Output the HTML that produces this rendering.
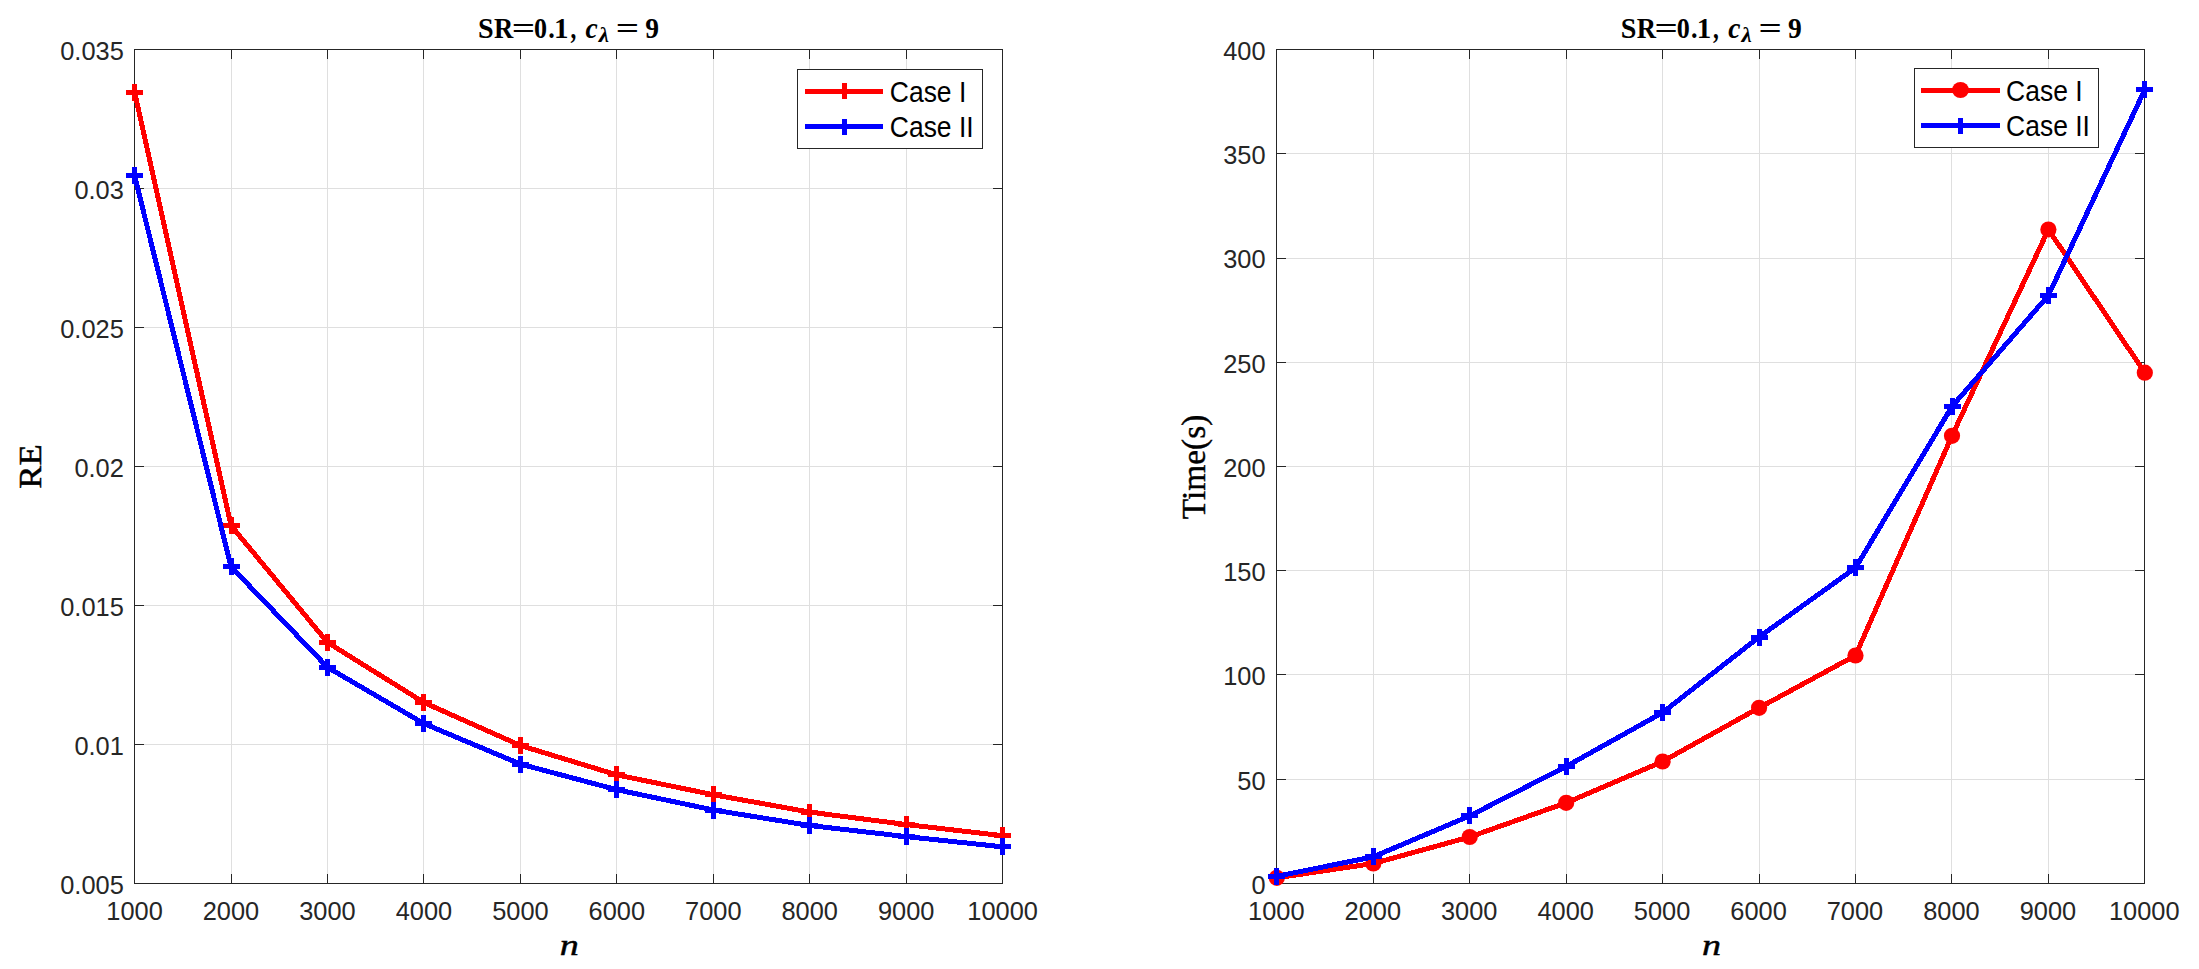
<!DOCTYPE html>
<html lang="en"><head><meta charset="utf-8"><title>SR=0.1 plots</title>
<style>html,body{margin:0;padding:0;background:#fff}body{width:2199px;height:969px;overflow:hidden}svg{display:block}</style>
</head><body>
<svg width="2199" height="969" viewBox="0 0 2199 969">
<rect width="2199" height="969" fill="#fff"/>
<path d="M231.5 49.55V883.55M327.5 49.55V883.55M423.5 49.55V883.55M520.5 49.55V883.55M616.5 49.55V883.55M713.5 49.55V883.55M809.5 49.55V883.55M906.5 49.55V883.55M134.6 188.5H1002.6M134.6 327.5H1002.6M134.6 466.5H1002.6M134.6 605.5H1002.6M134.6 744.5H1002.6" stroke="#dfdfdf" stroke-width="1" fill="none" shape-rendering="crispEdges"/>
<path d="M231.5 883.55v-9.5M231.5 49.55v9.5M327.5 883.55v-9.5M327.5 49.55v9.5M423.5 883.55v-9.5M423.5 49.55v9.5M520.5 883.55v-9.5M520.5 49.55v9.5M616.5 883.55v-9.5M616.5 49.55v9.5M713.5 883.55v-9.5M713.5 49.55v9.5M809.5 883.55v-9.5M809.5 49.55v9.5M906.5 883.55v-9.5M906.5 49.55v9.5M134.6 188.5h9.5M1002.6 188.5h-9.5M134.6 327.5h9.5M1002.6 327.5h-9.5M134.6 466.5h9.5M1002.6 466.5h-9.5M134.6 605.5h9.5M1002.6 605.5h-9.5M134.6 744.5h9.5M1002.6 744.5h-9.5" stroke="#262626" stroke-width="1" fill="none" shape-rendering="crispEdges"/>
<rect x="134.5" y="49.5" width="868" height="834" fill="none" stroke="#262626" stroke-width="1" shape-rendering="crispEdges"/>
<g shape-rendering="crispEdges">
<polyline points="134.6,92.4 231.0,525.5 327.5,642.4 423.9,702.5 520.4,745.5 616.8,774.9 713.3,794.7 809.7,812.1 906.2,824.5 1002.6,835.7" fill="none" stroke="#ff0000" stroke-width="5" stroke-linejoin="round"/>
<rect x="126.1" y="89.9" width="17" height="5" fill="#ff0000"/><rect x="132.1" y="83.9" width="5" height="17" fill="#ff0000"/>
<rect x="222.5" y="523.0" width="17" height="5" fill="#ff0000"/><rect x="228.5" y="517.0" width="5" height="17" fill="#ff0000"/>
<rect x="319.0" y="639.9" width="17" height="5" fill="#ff0000"/><rect x="325.0" y="633.9" width="5" height="17" fill="#ff0000"/>
<rect x="415.4" y="700.0" width="17" height="5" fill="#ff0000"/><rect x="421.4" y="694.0" width="5" height="17" fill="#ff0000"/>
<rect x="511.9" y="743.0" width="17" height="5" fill="#ff0000"/><rect x="517.9" y="737.0" width="5" height="17" fill="#ff0000"/>
<rect x="608.3" y="772.4" width="17" height="5" fill="#ff0000"/><rect x="614.3" y="766.4" width="5" height="17" fill="#ff0000"/>
<rect x="704.8" y="792.2" width="17" height="5" fill="#ff0000"/><rect x="710.8" y="786.2" width="5" height="17" fill="#ff0000"/>
<rect x="801.2" y="809.6" width="17" height="5" fill="#ff0000"/><rect x="807.2" y="803.6" width="5" height="17" fill="#ff0000"/>
<rect x="897.7" y="822.0" width="17" height="5" fill="#ff0000"/><rect x="903.7" y="816.0" width="5" height="17" fill="#ff0000"/>
<rect x="994.1" y="833.2" width="17" height="5" fill="#ff0000"/><rect x="1000.1" y="827.2" width="5" height="17" fill="#ff0000"/>
</g>
<g shape-rendering="crispEdges">
<polyline points="134.6,175.6 231.0,566.7 327.5,667.3 423.9,723.6 520.4,764.1 616.8,789.7 713.3,810.0 809.7,825.5 906.2,836.6 1002.6,846.8" fill="none" stroke="#0000ff" stroke-width="5" stroke-linejoin="round"/>
<rect x="126.1" y="173.1" width="17" height="5" fill="#0000ff"/><rect x="132.1" y="167.1" width="5" height="17" fill="#0000ff"/>
<rect x="222.5" y="564.2" width="17" height="5" fill="#0000ff"/><rect x="228.5" y="558.2" width="5" height="17" fill="#0000ff"/>
<rect x="319.0" y="664.8" width="17" height="5" fill="#0000ff"/><rect x="325.0" y="658.8" width="5" height="17" fill="#0000ff"/>
<rect x="415.4" y="721.1" width="17" height="5" fill="#0000ff"/><rect x="421.4" y="715.1" width="5" height="17" fill="#0000ff"/>
<rect x="511.9" y="761.6" width="17" height="5" fill="#0000ff"/><rect x="517.9" y="755.6" width="5" height="17" fill="#0000ff"/>
<rect x="608.3" y="787.2" width="17" height="5" fill="#0000ff"/><rect x="614.3" y="781.2" width="5" height="17" fill="#0000ff"/>
<rect x="704.8" y="807.5" width="17" height="5" fill="#0000ff"/><rect x="710.8" y="801.5" width="5" height="17" fill="#0000ff"/>
<rect x="801.2" y="823.0" width="17" height="5" fill="#0000ff"/><rect x="807.2" y="817.0" width="5" height="17" fill="#0000ff"/>
<rect x="897.7" y="834.1" width="17" height="5" fill="#0000ff"/><rect x="903.7" y="828.1" width="5" height="17" fill="#0000ff"/>
<rect x="994.1" y="844.3" width="17" height="5" fill="#0000ff"/><rect x="1000.1" y="838.3" width="5" height="17" fill="#0000ff"/>
</g>
<g font-family="Liberation Sans, Arial, Helvetica, sans-serif" font-size="25.4" fill="#262626">
<text x="134.6" y="920" text-anchor="middle">1000</text>
<text x="231.0" y="920" text-anchor="middle">2000</text>
<text x="327.5" y="920" text-anchor="middle">3000</text>
<text x="423.9" y="920" text-anchor="middle">4000</text>
<text x="520.4" y="920" text-anchor="middle">5000</text>
<text x="616.8" y="920" text-anchor="middle">6000</text>
<text x="713.3" y="920" text-anchor="middle">7000</text>
<text x="809.7" y="920" text-anchor="middle">8000</text>
<text x="906.2" y="920" text-anchor="middle">9000</text>
<text x="1002.6" y="920" text-anchor="middle">10000</text>
<text x="123.8" y="59.8" text-anchor="end">0.035</text>
<text x="123.8" y="198.8" text-anchor="end">0.03</text>
<text x="123.8" y="337.8" text-anchor="end">0.025</text>
<text x="123.8" y="476.8" text-anchor="end">0.02</text>
<text x="123.8" y="615.8" text-anchor="end">0.015</text>
<text x="123.8" y="754.8" text-anchor="end">0.01</text>
<text x="123.8" y="893.8" text-anchor="end">0.005</text>
</g>
<path d="M1373.5 49.55V883.55M1469.5 49.55V883.55M1566.5 49.55V883.55M1662.5 49.55V883.55M1759.5 49.55V883.55M1855.5 49.55V883.55M1951.5 49.55V883.55M2048.5 49.55V883.55M1276.85 153.5H2144.85M1276.85 258.5H2144.85M1276.85 362.5H2144.85M1276.85 466.5H2144.85M1276.85 570.5H2144.85M1276.85 674.5H2144.85M1276.85 779.5H2144.85" stroke="#dfdfdf" stroke-width="1" fill="none" shape-rendering="crispEdges"/>
<path d="M1373.5 883.55v-9.5M1373.5 49.55v9.5M1469.5 883.55v-9.5M1469.5 49.55v9.5M1566.5 883.55v-9.5M1566.5 49.55v9.5M1662.5 883.55v-9.5M1662.5 49.55v9.5M1759.5 883.55v-9.5M1759.5 49.55v9.5M1855.5 883.55v-9.5M1855.5 49.55v9.5M1951.5 883.55v-9.5M1951.5 49.55v9.5M2048.5 883.55v-9.5M2048.5 49.55v9.5M1276.85 153.5h9.5M2144.85 153.5h-9.5M1276.85 258.5h9.5M2144.85 258.5h-9.5M1276.85 362.5h9.5M2144.85 362.5h-9.5M1276.85 466.5h9.5M2144.85 466.5h-9.5M1276.85 570.5h9.5M2144.85 570.5h-9.5M1276.85 674.5h9.5M2144.85 674.5h-9.5M1276.85 779.5h9.5M2144.85 779.5h-9.5" stroke="#262626" stroke-width="1" fill="none" shape-rendering="crispEdges"/>
<rect x="1276.5" y="49.5" width="868" height="834" fill="none" stroke="#262626" stroke-width="1" shape-rendering="crispEdges"/>
<g shape-rendering="crispEdges">
<polyline points="1276.8,877.8 1373.3,863.5 1469.7,837.0 1566.2,802.8 1662.6,761.5 1759.1,707.8 1855.5,655.5 1952.0,435.8 2048.4,229.5 2144.8,372.7" fill="none" stroke="#ff0000" stroke-width="5" stroke-linejoin="round"/>
<circle cx="1276.8" cy="877.8" r="8.1" fill="#ff0000" shape-rendering="geometricPrecision"/>
<circle cx="1373.3" cy="863.5" r="8.1" fill="#ff0000" shape-rendering="geometricPrecision"/>
<circle cx="1469.7" cy="837.0" r="8.1" fill="#ff0000" shape-rendering="geometricPrecision"/>
<circle cx="1566.2" cy="802.8" r="8.1" fill="#ff0000" shape-rendering="geometricPrecision"/>
<circle cx="1662.6" cy="761.5" r="8.1" fill="#ff0000" shape-rendering="geometricPrecision"/>
<circle cx="1759.1" cy="707.8" r="8.1" fill="#ff0000" shape-rendering="geometricPrecision"/>
<circle cx="1855.5" cy="655.5" r="8.1" fill="#ff0000" shape-rendering="geometricPrecision"/>
<circle cx="1952.0" cy="435.8" r="8.1" fill="#ff0000" shape-rendering="geometricPrecision"/>
<circle cx="2048.4" cy="229.5" r="8.1" fill="#ff0000" shape-rendering="geometricPrecision"/>
<circle cx="2144.8" cy="372.7" r="8.1" fill="#ff0000" shape-rendering="geometricPrecision"/>
</g>
<g shape-rendering="crispEdges">
<polyline points="1276.8,876.3 1373.3,856.8 1469.7,815.9 1566.2,766.4 1662.6,712.6 1759.1,637.0 1855.5,567.8 1952.0,406.5 2048.4,295.4 2144.8,89.7" fill="none" stroke="#0000ff" stroke-width="5" stroke-linejoin="round"/>
<rect x="1268.3" y="873.8" width="17" height="5" fill="#0000ff"/><rect x="1274.3" y="867.8" width="5" height="17" fill="#0000ff"/>
<rect x="1364.8" y="854.3" width="17" height="5" fill="#0000ff"/><rect x="1370.8" y="848.3" width="5" height="17" fill="#0000ff"/>
<rect x="1461.2" y="813.4" width="17" height="5" fill="#0000ff"/><rect x="1467.2" y="807.4" width="5" height="17" fill="#0000ff"/>
<rect x="1557.7" y="763.9" width="17" height="5" fill="#0000ff"/><rect x="1563.7" y="757.9" width="5" height="17" fill="#0000ff"/>
<rect x="1654.1" y="710.1" width="17" height="5" fill="#0000ff"/><rect x="1660.1" y="704.1" width="5" height="17" fill="#0000ff"/>
<rect x="1750.6" y="634.5" width="17" height="5" fill="#0000ff"/><rect x="1756.6" y="628.5" width="5" height="17" fill="#0000ff"/>
<rect x="1847.0" y="565.3" width="17" height="5" fill="#0000ff"/><rect x="1853.0" y="559.3" width="5" height="17" fill="#0000ff"/>
<rect x="1943.5" y="404.0" width="17" height="5" fill="#0000ff"/><rect x="1949.5" y="398.0" width="5" height="17" fill="#0000ff"/>
<rect x="2039.9" y="292.9" width="17" height="5" fill="#0000ff"/><rect x="2045.9" y="286.9" width="5" height="17" fill="#0000ff"/>
<rect x="2136.3" y="87.2" width="17" height="5" fill="#0000ff"/><rect x="2142.3" y="81.2" width="5" height="17" fill="#0000ff"/>
</g>
<g font-family="Liberation Sans, Arial, Helvetica, sans-serif" font-size="25.4" fill="#262626">
<text x="1276.3" y="920" text-anchor="middle">1000</text>
<text x="1372.8" y="920" text-anchor="middle">2000</text>
<text x="1469.2" y="920" text-anchor="middle">3000</text>
<text x="1565.7" y="920" text-anchor="middle">4000</text>
<text x="1662.1" y="920" text-anchor="middle">5000</text>
<text x="1758.6" y="920" text-anchor="middle">6000</text>
<text x="1855.0" y="920" text-anchor="middle">7000</text>
<text x="1951.5" y="920" text-anchor="middle">8000</text>
<text x="2047.9" y="920" text-anchor="middle">9000</text>
<text x="2144.3" y="920" text-anchor="middle">10000</text>
<text x="1265.6" y="59.8" text-anchor="end">400</text>
<text x="1265.6" y="164.0" text-anchor="end">350</text>
<text x="1265.6" y="268.2" text-anchor="end">300</text>
<text x="1265.6" y="372.5" text-anchor="end">250</text>
<text x="1265.6" y="476.8" text-anchor="end">200</text>
<text x="1265.6" y="581.0" text-anchor="end">150</text>
<text x="1265.6" y="685.2" text-anchor="end">100</text>
<text x="1265.6" y="789.5" text-anchor="end">50</text>
<text x="1265.6" y="893.8" text-anchor="end">0</text>
</g>
<rect x="797.5" y="69.5" width="185" height="79" fill="#fff" stroke="#262626" stroke-width="1" shape-rendering="crispEdges"/>
<g shape-rendering="crispEdges">
<rect x="805" y="89.0" width="78" height="5" fill="#ff0000"/>
<rect x="842.0" y="83.0" width="5" height="16" fill="#ff0000"/>
<rect x="805" y="124.0" width="78" height="5" fill="#0000ff"/>
<rect x="842.0" y="119.0" width="5" height="16" fill="#0000ff"/>
</g>
<g font-family="Liberation Sans, Arial, Helvetica, sans-serif" font-size="29" fill="#000">
<text transform="translate(889.8,101.9) scale(0.913,1)">Case I</text>
<text transform="translate(889.8,137.0) scale(0.913,1)">Case II</text>
</g>
<rect x="1914.5" y="68.5" width="184" height="79" fill="#fff" stroke="#262626" stroke-width="1" shape-rendering="crispEdges"/>
<g shape-rendering="crispEdges">
<rect x="1921" y="88.0" width="79" height="5" fill="#ff0000"/>
</g><ellipse cx="1960.5" cy="90.0" rx="8.4" ry="8.0" fill="#ff0000"/><g shape-rendering="crispEdges">
<rect x="1921" y="123.0" width="79" height="5" fill="#0000ff"/>
<rect x="1958.0" y="118.0" width="5" height="16" fill="#0000ff"/>
</g>
<g font-family="Liberation Sans, Arial, Helvetica, sans-serif" font-size="29" fill="#000">
<text transform="translate(2006.1,100.9) scale(0.913,1)">Case I</text>
<text transform="translate(2006.1,136.0) scale(0.913,1)">Case II</text>
</g>
<g font-family="Liberation Serif, Times New Roman, serif" fill="#000">
<text transform="translate(569.3,954.6) scale(1.27,1)" font-size="30" font-style="italic" text-anchor="middle" stroke="#000" stroke-width="0.45">n</text>
<text transform="translate(1711.4,954.6) scale(1.27,1)" font-size="30" font-style="italic" text-anchor="middle" stroke="#000" stroke-width="0.45">n</text>
<text transform="translate(41,466.5) rotate(-90) scale(1.075,1)" font-size="32.3" text-anchor="middle" stroke="#000" stroke-width="0.5">RE</text>
<text transform="translate(1205,467) rotate(-90) scale(1.012,1)" font-size="33" text-anchor="middle" stroke="#000" stroke-width="0.4">Time(s)</text>
<text transform="translate(478.0,38) scale(0.97,1)" font-size="29" font-weight="bold">S</text><text transform="translate(494.0,38) scale(0.92,1)" font-size="29" font-weight="bold">R</text><text transform="translate(511.7,38) scale(1.42,1)" font-size="29" font-weight="bold">=</text><text transform="translate(534.0,38) scale(0.9,1)" font-size="29" font-weight="bold">0</text><text transform="translate(548.3,38) scale(0.9,1)" font-size="29" font-weight="bold">.</text><text transform="translate(554.0,38) scale(1.0,1)" font-size="29" font-weight="bold">1</text><text transform="translate(570.4,38) scale(0.8,1)" font-size="29" font-weight="bold">,</text><text transform="translate(585.6,38) scale(0.95,1)" font-size="29" font-weight="bold" font-style="italic">c</text><text transform="translate(598.7,42.2) scale(1.1,1)" font-size="21" font-weight="bold" font-style="italic">λ</text><text transform="translate(615.8,38) scale(1.42,1)" font-size="29" font-weight="bold">=</text><text transform="translate(645.2,38) scale(0.95,1)" font-size="29" font-weight="bold">9</text>
<text transform="translate(1620.7,38) scale(0.97,1)" font-size="29" font-weight="bold">S</text><text transform="translate(1636.7,38) scale(0.92,1)" font-size="29" font-weight="bold">R</text><text transform="translate(1654.4,38) scale(1.42,1)" font-size="29" font-weight="bold">=</text><text transform="translate(1676.7,38) scale(0.9,1)" font-size="29" font-weight="bold">0</text><text transform="translate(1691.0,38) scale(0.9,1)" font-size="29" font-weight="bold">.</text><text transform="translate(1696.7,38) scale(1.0,1)" font-size="29" font-weight="bold">1</text><text transform="translate(1713.1,38) scale(0.8,1)" font-size="29" font-weight="bold">,</text><text transform="translate(1728.3,38) scale(0.95,1)" font-size="29" font-weight="bold" font-style="italic">c</text><text transform="translate(1741.4,42.2) scale(1.1,1)" font-size="21" font-weight="bold" font-style="italic">λ</text><text transform="translate(1758.5,38) scale(1.42,1)" font-size="29" font-weight="bold">=</text><text transform="translate(1787.9,38) scale(0.95,1)" font-size="29" font-weight="bold">9</text>
</g>
</svg>
</body></html>
